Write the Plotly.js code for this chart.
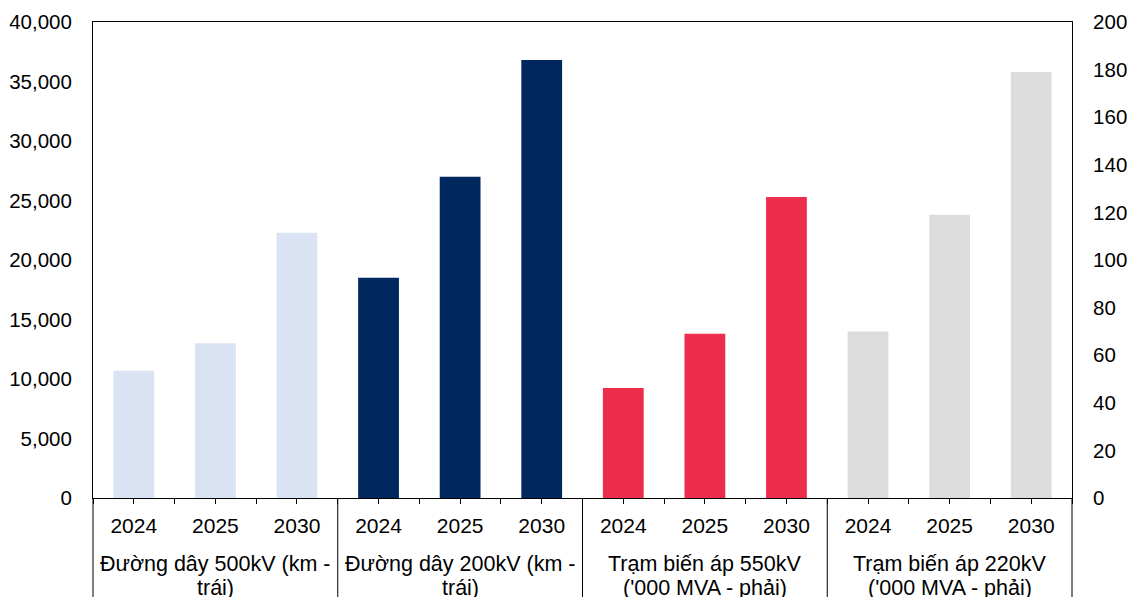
<!DOCTYPE html>
<html><head><meta charset="utf-8">
<script src="https://cdn.plot.ly/plotly-3.0.1.min.js"></script>
<style>html,body{margin:0;padding:0;overflow:hidden;background:#fff}</style>
</head><body><div id="chart" style="width:1127px;height:630px"></div>
<script>
const years = ['2024', '2025', '2030'];
const groupLine1 = ['Đường dây 500kV (km -', 'Đường dây 200kV (km -', 'Trạm biến áp 550kV', 'Trạm biến áp 220kV'];
const groupLine2 = ['trái)', 'trái)', '(\'000 MVA - phải)', '(\'000 MVA - phải)'];
const line500 = [10700, 13000, 22300];
const line200 = [18500, 27000, 36800];
const sub550 = [46.2, 69, 126.5];
const sub220 = [70, 119, 179];
const leftTicks = [0, 5000, 10000, 15000, 20000, 25000, 30000, 35000, 40000];
const rightTicks = [0, 20, 40, 60, 80, 100, 120, 140, 160, 180, 200];

const series = [line500, line200, sub550, sub220];
const colors = ['#DAE3F3', '#00275E', '#EC2D4B', '#DCDCDC'];
const axesOf = ['y', 'y', 'y2', 'y2'];
const n = years.length;
const nG = groupLine1.length;

const traces = series.map((vals, g) => ({
  type: 'bar',
  x: years.map((_, i) => g * n + i),
  y: vals,
  yaxis: axesOf[g],
  width: 0.5,
  marker: {color: colors[g], line: {width: 0}},
  hoverinfo: 'y',
  showlegend: false
}));

const centers = [];
const ticktext = [];
for (let g = 0; g < nG; g++) years.forEach((yr, i) => { centers.push(g * n + i); ticktext.push(yr); });
const bounds = [];
for (let k = 0; k <= nG * n; k++) bounds.push(k - 0.5);

const font = {family: 'Liberation Sans, Arial, sans-serif', size: 21, color: '#000'};
const yfont = {family: 'Liberation Sans, Arial, sans-serif', size: 20.5, color: '#000'};
const gfont = {family: 'Liberation Sans, Arial, sans-serif', size: 21.5, color: '#000'};

const shapes = [];
for (let g = 1; g < nG; g++) {
  shapes.push({type: 'line', xref: 'x', yref: 'paper', x0: g * n - 0.5, x1: g * n - 0.5, y0: 0, y1: -0.5,
    line: {color: '#000', width: 1}});
}
[0, 1].forEach(px => shapes.push({type: 'line', xref: 'paper', yref: 'paper', x0: px, x1: px, y0: 0, y1: -0.5,
  line: {color: '#000', width: 1}}));

const annotations = [];
for (let g = 0; g < nG; g++) {
  annotations.push({text: groupLine1[g], xref: 'x', yref: 'paper', x: g * n + (n - 1) / 2, y: 0,
    yanchor: 'middle', yshift: -66, showarrow: false, font: gfont});
  annotations.push({text: groupLine2[g], xref: 'x', yref: 'paper', x: g * n + (n - 1) / 2, y: 0,
    yanchor: 'middle', yshift: -90, showarrow: false, font: gfont});
}

const layout = {
  width: 1127, height: 630,
  margin: {l: 93, r: 55, t: 22, b: 132},
  paper_bgcolor: '#fff', plot_bgcolor: '#fff',
  font: font,
  barmode: 'overlay',
  xaxis: {
    range: [-0.5, nG * n - 0.5],
    tickmode: 'array', tickvals: centers, ticktext: ticktext,
    ticks: 'outside', ticklen: 5, tickcolor: '#000', tickwidth: 1,
    minor: {tickmode: 'array', tickvals: bounds, ticks: 'outside', ticklen: 5, tickcolor: '#000', showgrid: false},
    showline: true, linecolor: '#000', linewidth: 1, mirror: true,
    showgrid: false, zeroline: false, tickfont: font, ticklabelstandoff: 4
  },
  yaxis: {
    range: [0, 40000], tickmode: 'array', tickvals: leftTicks, tickformat: ',d',
    showline: true, linecolor: '#000', linewidth: 1,
    showgrid: false, zeroline: false, ticks: '', tickfont: yfont, ticklabelstandoff: 16
  },
  yaxis2: {
    range: [0, 200], tickmode: 'array', tickvals: rightTicks, overlaying: 'y', side: 'right',
    showline: true, linecolor: '#000', linewidth: 1,
    showgrid: false, zeroline: false, ticks: '', tickfont: yfont, ticklabelstandoff: 16
  },
  shapes: shapes,
  annotations: annotations
};

Plotly.newPlot('chart', traces, layout, {displayModeBar: false, staticPlot: true});
</script>
</body></html>
